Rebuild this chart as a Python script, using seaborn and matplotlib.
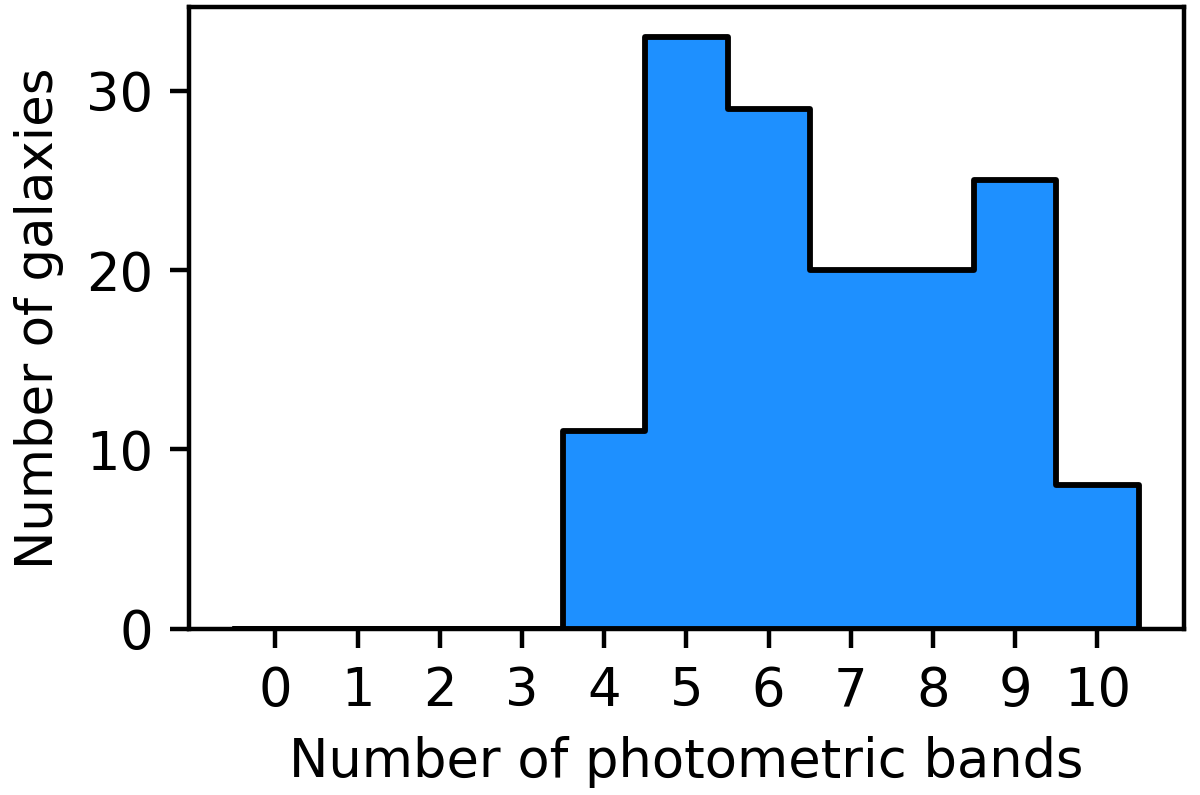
import numpy as np
import pandas as pd
import matplotlib
matplotlib.use("Agg")
import matplotlib.pyplot as plt
import seaborn as sns

# number of photometric bands and galaxies in each bin
bands = [0, 1, 2, 3, 4, 5, 6, 7, 8, 9, 10]
counts = [0, 0, 0, 0, 11, 33, 29, 20, 20, 25, 8]

x_ticks = [0, 1, 2, 3, 4, 5, 6, 7, 8, 9, 10]
y_ticks = [0, 10, 20, 30]

# one row per galaxy
df = pd.DataFrame({"bands": np.repeat(bands, counts)})

sns.set_style("ticks")
plt.rcParams["font.family"] = ["DejaVu Sans"]
plt.rcParams["text.color"] = "black"
plt.rcParams["axes.labelcolor"] = "black"
plt.rcParams["axes.linewidth"] = 1.6
plt.rcParams["xtick.major.width"] = 1.6
plt.rcParams["ytick.major.width"] = 1.6
plt.rcParams["xtick.major.size"] = 7
plt.rcParams["ytick.major.size"] = 7
plt.rcParams["xtick.major.pad"] = 6
plt.rcParams["ytick.major.pad"] = 6

fig = plt.figure(figsize=(6, 3.975), dpi=200)
ax = fig.add_axes([0.1575, 0.209, 0.829, 0.782])

sns.histplot(
    data=df, x="bands",
    bins=np.arange(-0.5, 11.5, 1),
    element="step", fill=True,
    color="dodgerblue", alpha=1,
    edgecolor="black", linewidth=2.1,
    ax=ax,
)

ax.set_xlim(-1.05, 11.05)
ax.set_ylim(0, 34.65)
ax.set_xticks(x_ticks)
ax.set_yticks(y_ticks)
ax.tick_params(labelsize=19, colors="black")
for s in ax.spines.values():
    s.set_visible(True)
    s.set_color("black")
ax.set_xlabel("Number of photometric bands", fontsize=19, labelpad=7)
ax.set_ylabel("Number of galaxies", fontsize=18.5, labelpad=8)

fig.savefig("out.png", dpi=200)
